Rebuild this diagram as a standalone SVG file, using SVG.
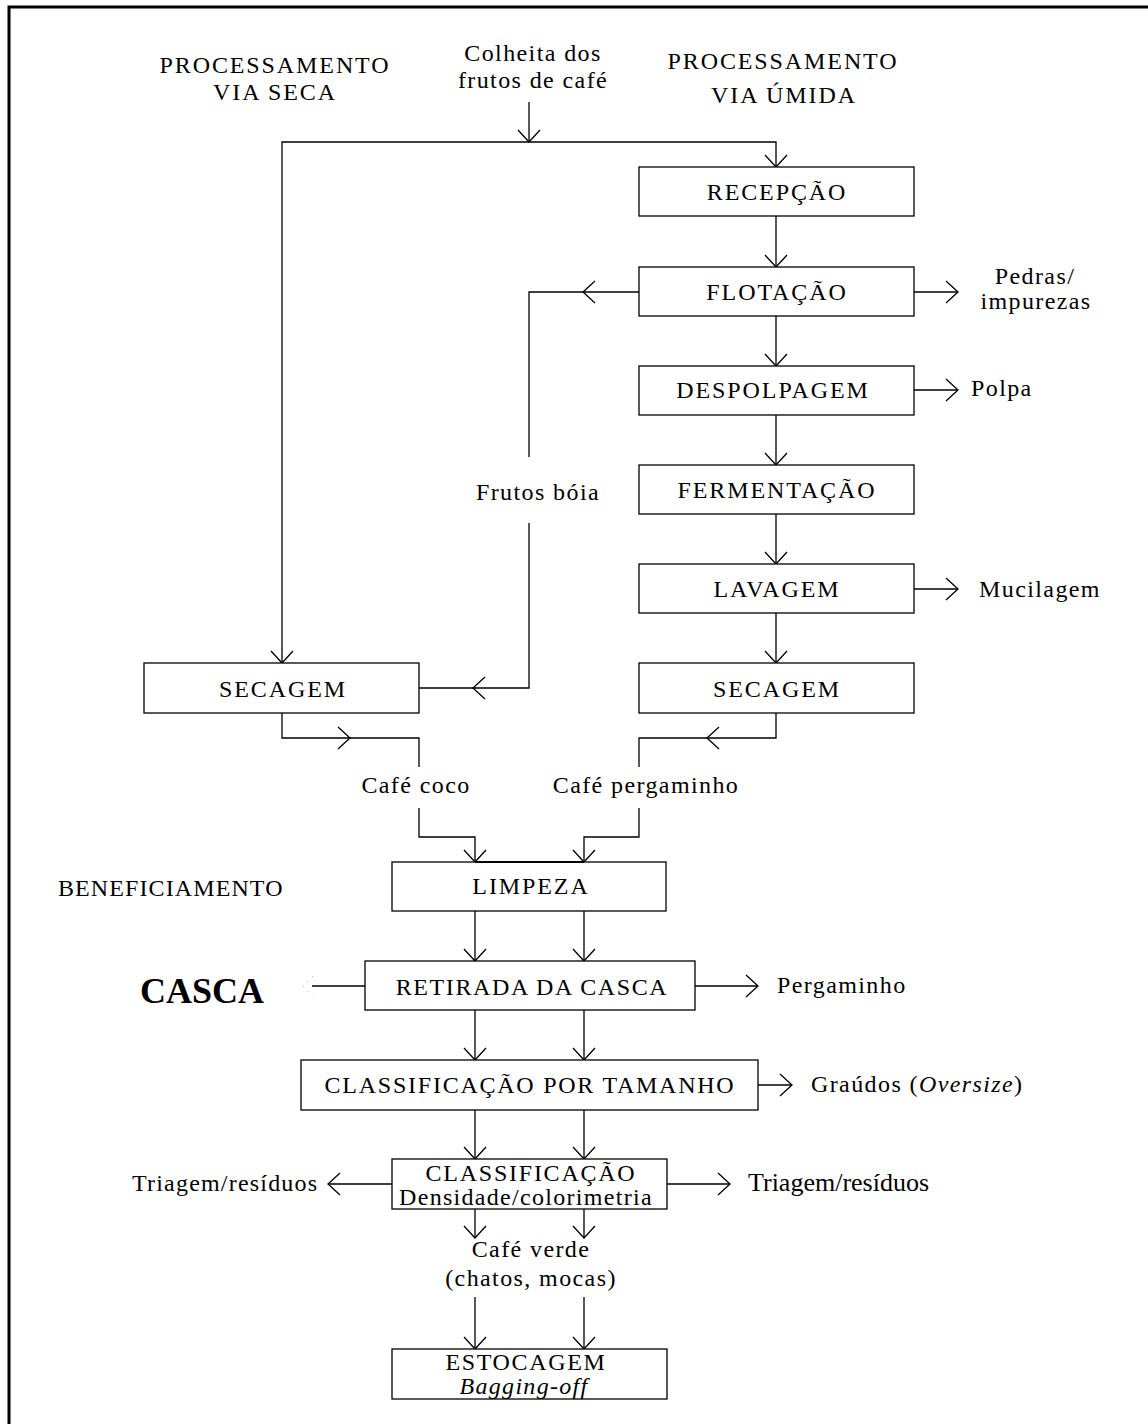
<svg xmlns="http://www.w3.org/2000/svg" width="1148" height="1424" viewBox="0 0 1148 1424">
<defs>
<style>
.t{font-family:'Liberation Serif','Times New Roman',serif;font-size:24px;letter-spacing:1.4px;fill:#000;}
.u{letter-spacing:1.9px;}
.m{text-anchor:middle;}
.box{fill:#fff;stroke:#000;stroke-width:1.3;}
.c{fill:none;stroke:#000;stroke-width:1.3;}
.a{marker-end:url(#ah);}
</style>
<marker id="ah" markerUnits="userSpaceOnUse" markerWidth="30" markerHeight="30" viewBox="-15 -15 30 30" refX="0" refY="0" orient="auto" overflow="visible">
<path d="M-12,-11 L0,0 L-12,11" fill="none" stroke="#000" stroke-width="1.3"/>
</marker>
</defs>
<rect width="1148" height="1424" fill="#fff"/>
<path d="M9,1424 L9,7 L1148,7" fill="none" stroke="#000" stroke-width="3"/>

<g id="titles">
<text class="t u m" x="275" y="73">PROCESSAMENTO</text>
<text class="t u m" x="275" y="100">VIA SECA</text>
<text class="t m" x="533" y="61">Colheita dos</text>
<text class="t m" x="533" y="88">frutos de café</text>
<text class="t u m" x="783" y="69">PROCESSAMENTO</text>
<text class="t u m" x="784" y="103">VIA ÚMIDA</text>
<text class="t" x="58" y="896" style="letter-spacing:1.1px">BENEFICIAMENTO</text>
</g>

<g id="connectors">
<path class="c a" d="M529,102 L529,142"/>
<path class="c a" d="M529,142 L282,142 L282,663"/>
<path class="c a" d="M529,142 L776,142 L776,167"/>
<path class="c a" d="M776,216 L776,267"/>
<path class="c a" d="M776,316 L776,366"/>
<path class="c a" d="M776,415 L776,465"/>
<path class="c a" d="M776,514 L776,564"/>
<path class="c a" d="M776,613 L776,663"/>
<path class="c a" d="M639,292 L583,292"/>
<path class="c" d="M583,292 L529,292 L529,457"/>
<path class="c a" d="M529,523 L529,688 L473,688"/>
<path class="c" d="M473,688 L419,688"/>
<path class="c a" d="M914,292 L958,292"/>
<path class="c a" d="M914,390 L958,390"/>
<path class="c a" d="M914,589 L958,589"/>
<path class="c a" d="M282,713 L282,738 L350,738"/>
<path class="c" d="M350,738 L419,738 L419,767"/>
<path class="c a" d="M419,808 L419,837 L475,837 L475,862"/>
<path class="c a" d="M776,713 L776,738 L707,738"/>
<path class="c" d="M707,738 L639,738 L639,767"/>
<path class="c a" d="M639,808 L639,837 L584,837 L584,862"/>
<path class="c a" d="M475,911 L475,961"/>
<path class="c a" d="M584,911 L584,961"/>
<path class="c" d="M365,986 L312,986"/>
<path d="M313,976 L303,986 L313,996" fill="none" stroke="#999" stroke-width="1" stroke-dasharray="1 6"/>
<path class="c a" d="M695,986 L758,986"/>
<path class="c a" d="M475,1010 L475,1060"/>
<path class="c a" d="M584,1010 L584,1060"/>
<path class="c a" d="M758,1085 L792,1085"/>
<path class="c a" d="M475,1110 L475,1159"/>
<path class="c a" d="M584,1110 L584,1159"/>
<path class="c a" d="M392,1184 L328,1184"/>
<path class="c a" d="M667,1184 L730,1184"/>
<path class="c a" d="M475,1209 L475,1238"/>
<path class="c a" d="M584,1209 L584,1238"/>
<path class="c a" d="M475,1297 L475,1349"/>
<path class="c a" d="M584,1297 L584,1349"/>
</g>

<g id="recepcao"><rect class="box" x="639" y="167" width="275" height="49"/><text class="t u m" x="777" y="200">RECEPÇÃO</text></g>
<g id="flotacao"><rect class="box" x="639" y="267" width="275" height="49"/><text class="t u m" x="777" y="300">FLOTAÇÃO</text></g>
<g id="pedras"><text class="t m" x="1035" y="284">Pedras/</text><text class="t m" x="1036" y="309">impurezas</text></g>
<g id="despolpagem"><rect class="box" x="639" y="366" width="275" height="49"/><text class="t u m" x="773" y="398">DESPOLPAGEM</text></g>
<g id="polpa"><text class="t" x="971" y="396">Polpa</text></g>
<g id="fermentacao"><rect class="box" x="639" y="465" width="275" height="49"/><text class="t u m" x="777" y="498">FERMENTAÇÃO</text></g>
<g id="lavagem"><rect class="box" x="639" y="564" width="275" height="49"/><text class="t u m" x="777" y="597">LAVAGEM</text></g>
<g id="mucilagem"><text class="t" x="979" y="597">Mucilagem</text></g>
<g id="secagem-umida"><rect class="box" x="639" y="663" width="275" height="50"/><text class="t u m" x="777" y="697">SECAGEM</text></g>
<g id="secagem-seca"><rect class="box" x="144" y="663" width="275" height="50"/><text class="t u m" x="283" y="697">SECAGEM</text></g>
<g id="frutos-boia"><text class="t m" x="538" y="500">Frutos bóia</text></g>
<g id="cafe-coco"><text class="t m" x="416" y="793">Café coco</text></g>
<g id="cafe-pergaminho"><text class="t m" x="646" y="793">Café pergaminho</text></g>
<g id="limpeza"><rect class="box" x="392" y="862" width="274" height="49"/><line x1="475" y1="862" x2="584" y2="862" stroke="#000" stroke-width="2.2"/><text class="t u m" x="531" y="894">LIMPEZA</text></g>
<g id="casca"><text x="140" y="1003" style="font-family:'Liberation Serif','Times New Roman',serif;font-size:36px;font-weight:bold">CASCA</text></g>
<g id="retirada"><rect class="box" x="365" y="961" width="330" height="49"/><text class="t m" x="532" y="995" style="letter-spacing:1.6px">RETIRADA DA CASCA</text></g>
<g id="pergaminho"><text class="t" x="777" y="993">Pergaminho</text></g>
<g id="tamanho"><rect class="box" x="301" y="1060" width="457" height="50"/><text class="t m" x="530" y="1093" style="letter-spacing:1.75px">CLASSIFICAÇÃO POR TAMANHO</text></g>
<g id="graudos"><text class="t" x="811" y="1092">Graúdos (<tspan font-style="italic">Oversize</tspan>)</text></g>
<g id="classificacao"><rect class="box" x="392" y="1159" width="275" height="50"/><text class="t u m" x="531" y="1181" style="letter-spacing:1.75px">CLASSIFICAÇÃO</text><text class="t m" x="526" y="1205" style="letter-spacing:1.3px">Densidade/colorimetria</text></g>
<g id="triagem-esq"><text class="t" x="132" y="1191" style="letter-spacing:1.2px">Triagem/resíduos</text></g>
<g id="triagem-dir"><text x="748" y="1191" style="font-family:'Liberation Serif','Times New Roman',serif;font-size:26px">Triagem/resíduos</text></g>
<g id="cafe-verde"><text class="t m" x="531" y="1257">Café verde</text><text class="t m" x="531" y="1286">(chatos, mocas)</text></g>
<g id="estocagem"><rect class="box" x="392" y="1349" width="275" height="50"/><text class="t m" x="526" y="1370" style="letter-spacing:1.66px">ESTOCAGEM</text><text class="t m" x="524" y="1394" style="font-style:italic;letter-spacing:1.3px">Bagging-off</text></g>
</svg>
